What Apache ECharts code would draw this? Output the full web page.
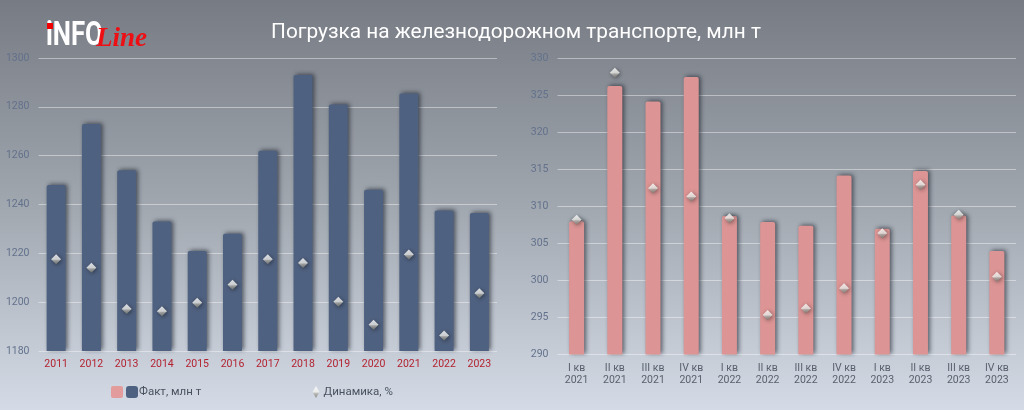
<!DOCTYPE html>
<html><head><meta charset="utf-8">
<style>html,body{margin:0;padding:0;background:#c8ced8}#c{width:1024px;height:410px}</style>
<script src="https://cdn.jsdelivr.net/npm/echarts@6/dist/echarts.min.js"></script></head>
<body><div id="c"></div>
<script>
const years=['2011','2012','2013','2014','2015','2016','2017','2018','2019','2020','2021','2022','2023'];
const yearFact=[1248,1273,1254,1233,1221,1228,1262,1293,1281,1246,1285.5,1237.5,1236.5];
const yearDyn=[2.7,2.0,-1.4,-1.6,-0.9,0.6,2.7,2.4,-0.8,-2.7,3.1,-3.6,-0.1];
const quarters=['I кв\n2021','II кв\n2021','III кв\n2021','IV кв\n2021','I кв\n2022','II кв\n2022','III кв\n2022','IV кв\n2022','I кв\n2023','II кв\n2023','III кв\n2023','IV кв\n2023'];
const quarterFact=[308,326.3,324.2,327.5,308.7,307.9,307.4,314.2,307,314.8,308.8,304];
const quarterDyn=[0.1,8.9,2.0,1.5,0.2,-5.6,-5.2,-4.0,-0.7,2.2,0.4,-3.3];
const FONT='Roboto,sans-serif';
const diamond={type:'linear',x:0,y:0,x2:0,y2:1,colorStops:[{offset:0,color:'#ffffff'},{offset:.5,color:'#f0f0ec'},{offset:.62,color:'#b5b5b0'},{offset:1,color:'#77776f'}]};
const split={lineStyle:{color:'rgba(255,255,255,.42)',width:1}};
const barStyle=c=>({color:c,borderRadius:[2,2,0,0],shadowColor:'rgba(20,25,35,.6)',shadowBlur:4,shadowOffsetX:2,shadowOffsetY:-1});
const dynSeries=(name,data,idx)=>({name,type:'scatter',xAxisIndex:idx,yAxisIndex:idx*2+1,data,symbol:'diamond',symbolSize:10,z:5,itemStyle:{color:diamond,shadowColor:'rgba(0,0,0,.55)',shadowBlur:4,shadowOffsetX:1,shadowOffsetY:1}});
const plain=v=>String(v);
const legendText=pad=>({color:'#4a5260',fontFamily:FONT,fontSize:11.5,padding:[0,0,0,pad]});
const chart=echarts.init(document.getElementById('c'),null,{renderer:'canvas'});
chart.setOption({
  animation:false,
  backgroundColor:{type:'linear',x:0,y:0,x2:0,y2:1,colorStops:[{offset:0,color:'#777b84'},{offset:.5,color:'#a0a7af'},{offset:1,color:'#d4dbe6'}]},
  title:{text:'Погрузка на железнодорожном транспорте, млн т',left:511,top:17,textAlign:'center',textStyle:{color:'#fff',fontFamily:'Roboto',fontWeight:400,fontSize:20.8}},
  legend:[
    {left:121,top:381,itemWidth:12,itemHeight:12,textStyle:legendText(-4),data:[{name:'Факт, млн т',icon:'roundRect'}]},
    {left:307.5,top:381,itemWidth:7,itemHeight:12,textStyle:legendText(-1),data:[{name:'Динамика, %',icon:'diamond'}]}
  ],
  grid:[{left:38.5,right:527,top:58,height:293,outerBoundsMode:'none'},{left:557.5,right:8,top:58.5,height:296,outerBoundsMode:'none'}],
  xAxis:[
    {type:'category',gridIndex:0,data:years,axisTick:{show:false},axisLine:{show:false},axisLabel:{color:'#b32230',fontFamily:FONT,fontSize:10.5,margin:8,interval:0}},
    {type:'category',gridIndex:1,data:quarters,axisTick:{show:false},axisLine:{show:false},axisLabel:{color:'#59616e',fontFamily:FONT,fontSize:10.5,margin:8,lineHeight:12,interval:0}}
  ],
  yAxis:[
    {type:'value',gridIndex:0,min:1180,max:1300,interval:20,splitLine:split,axisLine:{show:false},axisTick:{show:false},axisLabel:{color:'#62718c',fontFamily:FONT,fontSize:10.5,margin:9,formatter:plain}},
    {type:'value',gridIndex:0,min:-4.88,max:19.34,show:false,splitLine:{show:false}},
    {type:'value',gridIndex:1,min:290,max:330,interval:5,splitLine:split,axisLine:{show:false},axisTick:{show:false},axisLabel:{color:'#62718c',fontFamily:FONT,fontSize:10.5,margin:9,formatter:plain}},
    {type:'value',gridIndex:1,min:-7.96,max:9.76,show:false,splitLine:{show:false}}
  ],
  series:[
    {name:'Факт, млн т',type:'bar',xAxisIndex:0,yAxisIndex:0,data:yearFact,barWidth:19,itemStyle:barStyle('#4f6180')},
    dynSeries('Динамика, %',yearDyn,0),
    {name:'Факт, млн т (кв)',type:'bar',xAxisIndex:1,yAxisIndex:2,data:quarterFact,barWidth:15,itemStyle:barStyle('#dc9494')},
    dynSeries('Динамика, % (кв)',quarterDyn,1)
  ],
  graphic:[
    {type:'rect',left:111,top:386,shape:{width:12,height:12,r:2},style:{fill:'#e39c9c'},z:10},
    {type:'text',x:46,y:20,scaleX:.78,scaleY:1,style:{text:'iNFO',fill:'#fff',font:'bold 33px Roboto,sans-serif',shadowColor:'rgba(0,0,0,.5)',shadowBlur:4,shadowOffsetX:2,shadowOffsetY:2},z:10},
    {type:'rect',left:47,top:23,shape:{width:6,height:6},style:{fill:'#f00000'},z:11},
    {type:'text',x:96,y:26,style:{text:'Line',fill:'#ee0f14',font:'italic bold 27px "Liberation Serif",serif',shadowColor:'rgba(0,0,0,.5)',shadowBlur:3,shadowOffsetX:2,shadowOffsetY:2},z:11}
  ]
});
</script></body></html>
